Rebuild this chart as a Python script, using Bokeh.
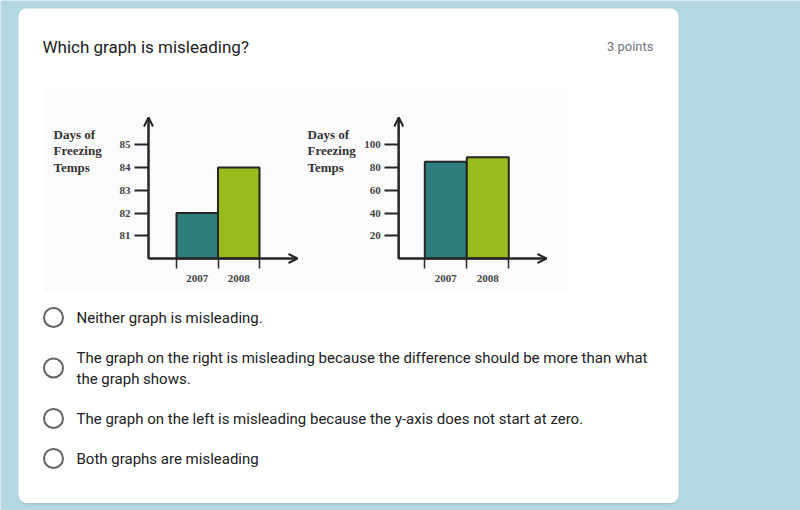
from bokeh.plotting import figure
from bokeh.models import Range1d, FixedTicker, Arrow, OpenHead, ColumnDataSource, LinearAxis
from bokeh.core.properties import value
from bokeh.embed import file_html
from bokeh.resources import INLINE

# ---------------- data ----------------
years = ["2007", "2008"]
left_values = [82, 84]          # left chart (axis starts at 80)
right_values = [85, 89]         # right chart (axis starts at 0)
left_ticks = [81, 82, 83, 84, 85]
right_ticks = [20, 40, 60, 80, 100]
left_base = 80
right_base = 0
bar_colors = ["#2e7e7d", "#98bc1c"]
y_title_lines = ["Days of", "Freezing", "Temps"]

question = "Which graph is misleading?"
points_text = "3 points"
options = [
    ["Neither graph is misleading."],
    ["The graph on the right is misleading because the difference should be more than what",
     "the graph shows."],
    ["The graph on the left is misleading because the y-axis does not start at zero."],
    ["Both graphs are misleading"],
]

# ---------------- style ----------------
BLUE = "#b4d8e1"
SHADOW = "#9fc2cb"
IMG_BG = "#fbfbfb"
INK = "#262626"
TXT = "#202124"
GREY = "#70757a"
RADIO = "#5f6368"
UI_FONT = value("Roboto")
SERIF = "Liberation Serif"
W, H = 800, 510

# One canvas in page pixels (y downwards); each chart gets its own data ranges.
p = figure(width=W, height=H, x_range=Range1d(0, W), y_range=Range1d(H, 0),
           x_axis_type=None, y_axis_type=None,
           toolbar_location=None, output_backend="svg",
           min_border=0, outline_line_color=None,
           background_fill_color=BLUE, border_fill_color=BLUE)

# card (with a faint shadow) and the chart picture background
p.quad(left=[18], right=[678], top=[9], bottom=[504], fill_color=SHADOW,
       fill_alpha=0.6, line_color=None, border_radius=8)
p.quad(left=[18], right=[678], top=[8], bottom=[502.5], fill_color="white",
       line_color=None, border_radius=8)
p.quad(left=[43], right=[567], top=[88], bottom=[292], fill_color=IMG_BG, line_color=None)

# header
p.text(x=[42], y=[46], text=[question], text_font=UI_FONT, text_font_size="17px",
       text_color=TXT, text_baseline="middle", text_align="left")
p.text(x=[653], y=[46], text=[points_text], text_font=UI_FONT, text_font_size="13px",
       text_color=GREY, text_baseline="middle", text_align="right")


def y_title(x):
    for i, line in enumerate(y_title_lines):
        p.text(x=[x], y=[134 + 16.3 * i], text=[line], text_font=value(SERIF),
               text_font_style="bold", text_font_size="13px", text_color="#333333",
               text_baseline="middle", text_align="left")


def bar_chart(name, values, ticks, base, geo):
    """geo holds the page-pixel geometry of the chart (layout only)."""
    ux, uy = geo["bar_px"], geo["unit_px"]
    bar0 = geo["bar0_x"]
    xr, yr = name + "_x", name + "_y"
    p.extra_x_ranges[xr] = Range1d(-0.5 - bar0 / ux, -0.5 + (W - bar0) / ux)
    p.extra_y_ranges[yr] = Range1d(base - (H - geo["base_y"]) / uy, base + geo["base_y"] / uy)
    axis_x = -0.5 - (bar0 - geo["axis_x"]) / ux
    x_tip = -0.5 + (geo["x_tip"] - bar0) / ux
    y_tip = base + (geo["base_y"] - geo["y_tip"]) / uy

    idx = list(range(len(years)))
    src = ColumnDataSource(dict(x=idx, top=values, color=bar_colors))
    p.vbar(x="x", top="top", bottom=base, width=1, fill_color="color",
           line_color=INK, line_width=2, source=src,
           x_range_name=xr, y_range_name=yr)

    label_style = dict(major_label_text_font=SERIF, major_label_text_font_style="bold",
                       major_label_text_font_size="11px", major_label_text_color="#444444")
    ya = LinearAxis(x_range_name=xr, y_range_name=yr, fixed_location=axis_x,
                    bounds=(base, y_tip), ticker=FixedTicker(ticks=ticks),
                    axis_line_color=INK, axis_line_width=2,
                    major_tick_line_color=INK, major_tick_line_width=2,
                    major_tick_in=0, major_tick_out=14, minor_tick_line_color=None,
                    major_label_standoff=4, **label_style)
    p.add_layout(ya, "left")

    xa = LinearAxis(x_range_name=xr, y_range_name=yr, fixed_location=base,
                    bounds=(axis_x, x_tip),
                    ticker=FixedTicker(ticks=idx,
                                       minor_ticks=[i - 0.5 for i in range(len(years) + 1)]),
                    major_label_overrides={i: y for i, y in enumerate(years)},
                    axis_line_color=INK, axis_line_width=2,
                    major_tick_line_color=None, major_tick_in=0, major_tick_out=0,
                    minor_tick_line_color=INK, minor_tick_line_width=1.5,
                    minor_tick_in=0, minor_tick_out=10,
                    major_label_standoff=6, **label_style)
    p.add_layout(xa, "below")

    head = dict(size=9, line_color=INK, line_width=2)
    p.add_layout(Arrow(end=OpenHead(**head), x_start=axis_x, x_end=axis_x,
                       y_start=base, y_end=y_tip, line_color=INK, line_width=2,
                       x_range_name=xr, y_range_name=yr))
    p.add_layout(Arrow(end=OpenHead(**head), x_start=axis_x, x_end=x_tip,
                       y_start=base, y_end=base, line_color=INK, line_width=2,
                       x_range_name=xr, y_range_name=yr))


y_title(53)
bar_chart("left", left_values, left_ticks, left_base,
          dict(bar_px=41.5, unit_px=22.75, axis_x=148, base_y=258,
               bar0_x=176, x_tip=297, y_tip=117))
y_title(307)
bar_chart("right", right_values, right_ticks, right_base,
          dict(bar_px=42, unit_px=1.1375, axis_x=398.3, base_y=258,
               bar0_x=424.3, x_tip=546, y_tip=117))

# answer options
y = 317
for lines in options:
    ys = [y + 21 * i for i in range(len(lines))]
    p.circle(x=[53], y=[(ys[0] + ys[-1]) / 2], radius=9.5, fill_color="white",
             line_color=RADIO, line_width=2)
    p.text(x=[76] * len(lines), y=ys, text=lines, text_font=UI_FONT,
           text_font_size="15px", text_color=TXT, text_baseline="middle",
           text_align="left")
    y = ys[-1] + 40

open("out.html", "w").write(file_html(p, INLINE))
